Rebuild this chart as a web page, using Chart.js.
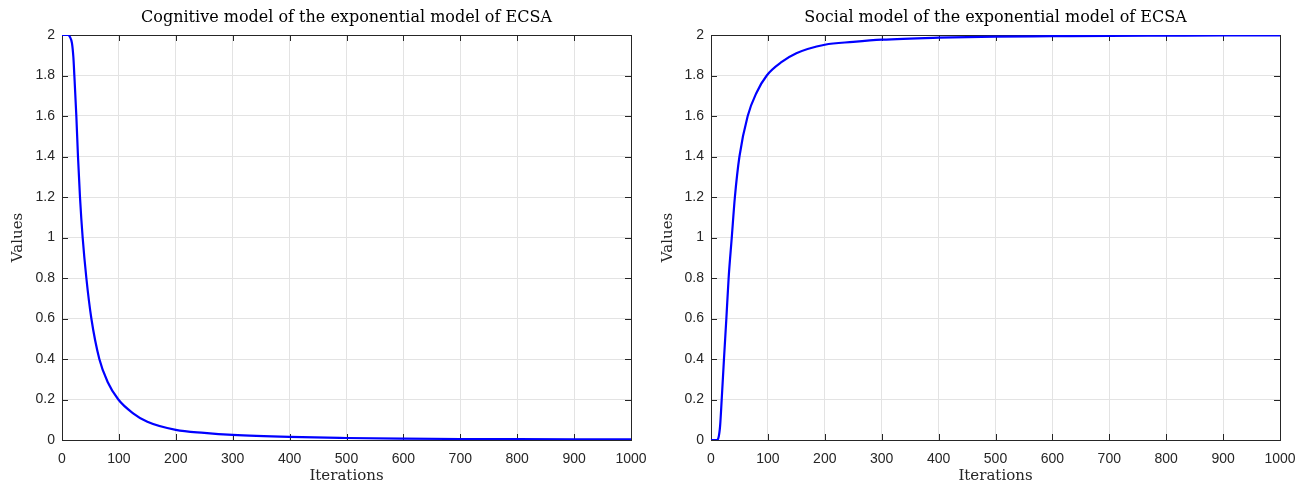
<!DOCTYPE html>
<html>
<head>
<meta charset="utf-8">
<script src="https://cdn.jsdelivr.net/npm/chart.js@4"></script>
<style>
  html, body { margin: 0; padding: 0; background: #fff; }
  .wrap { position: absolute; top: 0; height: 486px; }
  #left { left: 0; width: 650px; }
  #right { left: 650px; width: 657px; }
</style>
</head>
<body>
<div class="wrap" id="left"><canvas id="cognitive-chart" width="650" height="486"></canvas></div>
<div class="wrap" id="right"><canvas id="social-chart" width="657" height="486"></canvas></div>
<script>
// values
const cognitiveIters = [0, 10, 14, 17.5, 20, 21.7, 25.2, 28.1, 31.6, 36.3, 42.8, 51.6, 65.6, 80, 99, 125, 150, 200, 250, 300, 400, 500, 600, 700, 800, 900, 1000];
const cognitiveValues = [2, 2, 1.99, 1.96, 1.89, 1.8, 1.6, 1.4, 1.2, 1.0, 0.8, 0.6, 0.4, 0.288, 0.2, 0.132, 0.09, 0.05, 0.035, 0.025, 0.015, 0.01, 0.007, 0.005, 0.004, 0.0035, 0.003];

const socialIters = [0, 10, 13, 16, 18.8, 22.8, 27, 31, 36.5, 42, 50, 64.5, 80, 98, 125, 150, 200, 250, 300, 400, 500, 600, 700, 800, 900, 1000];
const socialValues = [0, 0, 0.01, 0.07, 0.2, 0.4, 0.6, 0.8, 1.0, 1.2, 1.4, 1.6, 1.715, 1.8, 1.868, 1.91, 1.952, 1.966, 1.977, 1.987, 1.992, 1.994, 1.996, 1.997, 1.998, 1.998];

const xTicks = [0, 100, 200, 300, 400, 500, 600, 700, 800, 900, 1000];
const yTicks = [0, 0.2, 0.4, 0.6, 0.8, 1, 1.2, 1.4, 1.6, 1.8, 2];

const axisColor = "#262626";
const gridColor = "#e3e3e3";
const serif = "'DejaVu Serif', 'Liberation Serif', serif";
const sans = "'Liberation Sans', Arial, sans-serif";

// MATLAB-like box with inward ticks on all four sides
const boxPlugin = {
  id: "box",
  beforeDatasetsDraw(chart) {
    const { ctx, chartArea: a, scales } = chart;
    const len = 6;
    ctx.save();
    ctx.strokeStyle = axisColor;
    ctx.lineWidth = 1;
    ctx.beginPath();
    scales.x.ticks.forEach((t) => {
      const px = Math.round(scales.x.getPixelForValue(t.value)) + 0.5;
      ctx.moveTo(px, a.bottom); ctx.lineTo(px, a.bottom - len);
      ctx.moveTo(px, a.top); ctx.lineTo(px, a.top + len);
    });
    scales.y.ticks.forEach((t) => {
      const py = Math.round(scales.y.getPixelForValue(t.value)) + 0.5;
      ctx.moveTo(a.left, py); ctx.lineTo(a.left + len, py);
      ctx.moveTo(a.right, py); ctx.lineTo(a.right - len, py);
    });
    ctx.stroke();
    ctx.strokeRect(Math.round(a.left) + 0.5, Math.round(a.top) + 0.5,
      Math.round(a.right - a.left), Math.round(a.bottom - a.top));
    ctx.restore();
  },
};

function makeChart(id, title, iters, values, yAxisWidth, rightPad) {
  new Chart(document.getElementById(id), {
    type: "line",
    data: {
      datasets: [
        {
          data: iters.map((x, i) => ({ x, y: values[i] })),
          borderColor: "#0000ff",
          borderWidth: 2.2,
          pointRadius: 0,
          cubicInterpolationMode: "monotone",
          fill: false,
        },
      ],
    },
    options: {
      responsive: false,
      animation: false,
      layout: { padding: { left: 0, right: rightPad, top: 0, bottom: 0 } },
      plugins: {
        legend: { display: false },
        tooltip: { enabled: false },
        title: {
          display: true,
          text: title,
          fullSize: false,
          color: "#000",
          font: { family: serif, size: 16, weight: "normal", lineHeight: 1.25 },
          padding: { top: 8, bottom: 7 },
        },
      },
      scales: {
        x: {
          type: "linear",
          min: 0,
          max: 1000,
          afterBuildTicks: (s) => { s.ticks = xTicks.map((v) => ({ value: v })); },
          afterFit: (s) => { s.height = 46; s.paddingLeft = 0; s.paddingRight = 0; },
          grid: { color: gridColor, drawTicks: false },
          border: { display: false },
          ticks: {
            color: axisColor,
            padding: 11,
            font: { family: sans, size: 14 },
            maxRotation: 0,
            callback: (v) => String(v),
          },
          title: {
            display: true,
            text: "Iterations",
            color: "#262626",
            font: { family: serif, size: 15 },
            padding: { top: 0, bottom: 1 },
          },
        },
        y: {
          min: 0,
          max: 2,
          afterBuildTicks: (s) => { s.ticks = yTicks.map((v) => ({ value: v })); },
          afterFit: (s) => { s.width = yAxisWidth; s.paddingTop = 0; s.paddingBottom = 0; },
          grid: { color: gridColor, drawTicks: false },
          border: { display: false },
          ticks: {
            color: axisColor,
            padding: 7,
            font: { family: sans, size: 14 },
            callback: (v) => String(Math.round(v * 10) / 10),
          },
          title: {
            display: true,
            text: "Values",
            color: "#262626",
            font: { family: serif, size: 15 },
            padding: { top: 9, bottom: 0 },
          },
        },
      },
    },
    plugins: [boxPlugin],
  });
}

makeChart("cognitive-chart", "Cognitive model of the exponential model of ECSA", cognitiveIters, cognitiveValues, 62, 19);
makeChart("social-chart", "Social model of the exponential model of ECSA", socialIters, socialValues, 61, 27);
</script>
</body>
</html>
